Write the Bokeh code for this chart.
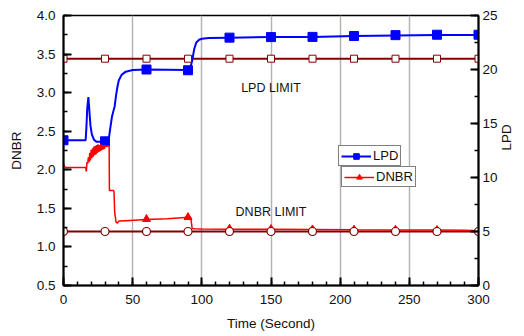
import math
from bokeh.plotting import figure
from bokeh.models import (Range1d, LinearAxis, SingleIntervalTicker, Label, Legend,
                          LegendItem, PrintfTickFormatter)
from bokeh.embed import file_html
from bokeh.resources import INLINE

# ---- data ----
t_lpd = [0, 16, 16.5, 17.2, 18, 18.8, 19.5, 20.5, 22, 24, 30, 32.5, 33.5, 35, 36, 37, 38,
         39, 40, 42, 45, 50, 60, 90, 91.5, 93, 94.5, 96, 98, 100, 105, 120, 150, 180, 210,
         240, 270, 300]
lpd = [13.45, 13.45, 14.5, 16.5, 17.45, 16.0, 14.8, 14.0, 13.5, 13.3, 13.3, 13.3, 14.3,
       15.6, 16.1, 16.6, 17.6, 18.4, 19.0, 19.5, 19.8, 19.95, 20.0, 19.95, 20.1, 20.8, 21.9,
       22.5, 22.75, 22.85, 22.92, 22.95, 23.0, 23.0, 23.1, 23.15, 23.2, 23.2]
marker_t = [0, 30, 60, 90, 120, 150, 180, 210, 240, 270, 300]
lpd_marker = [13.45, 13.35, 20.0, 19.93, 22.95, 23.0, 23.02, 23.1, 23.18, 23.22, 23.22]

t_dnbr = [0, 0.8, 1.5, 16, 16.5, 17, 17.5, 18, 18.5, 19, 19.5, 20, 20.5, 21, 21.5, 22, 22.5,
          23, 23.5, 24, 24.5, 25, 25.5, 26, 26.5, 27, 27.5, 28, 28.5, 29, 29.5, 30, 31, 32,
          33, 33.2, 36, 36.5, 37, 38, 39, 40, 45, 60, 75, 88, 89, 91, 92, 93, 95, 100, 120,
          150, 180, 210, 240, 270, 290, 300]
dnbr = [2.08, 2.04, 2.03, 2.03, 1.98, 2.1, 2.08, 2.16, 2.1, 2.22, 2.12, 2.26, 2.15, 2.28,
        2.17, 2.3, 2.19, 2.31, 2.2, 2.32, 2.22, 2.33, 2.23, 2.32, 2.24, 2.33, 2.25, 2.32,
        2.26, 2.32, 2.27, 2.31, 2.3, 2.31, 2.3, 1.73, 1.73, 1.72, 1.45, 1.32, 1.31, 1.335,
        1.34, 1.355, 1.365, 1.38, 1.39, 1.385, 1.38, 1.24, 1.235, 1.232, 1.23, 1.228, 1.225,
        1.222, 1.22, 1.218, 1.215, 1.21]
dnbr_marker_t = [60, 90, 120, 150, 180, 210, 240, 270]
dnbr_marker = [1.36, 1.385, 1.235, 1.23, 1.225, 1.222, 1.22, 1.218]

limit_t = [0, 300]
lpd_limit = [21.0, 21.0]
dnbr_limit = [1.2, 1.2]
lpd_limit_m = [21.0] * len(marker_t)
dnbr_limit_m = [1.2] * len(marker_t)

FONT = "Liberation Sans"
BLUE = "#0000ff"
RED = "#ff0000"
MAROON = "#800000"

p = figure(width=524, height=336, output_backend="svg", toolbar_location=None,
           x_range=Range1d(0, 300), y_range=Range1d(0.5, 4.0),
           min_border_left=63, min_border_right=41, min_border_top=15, min_border_bottom=51)
p.extra_y_ranges = {"lpd": Range1d(0, 25)}
p.background_fill_color = "white"
p.border_fill_color = "white"
p.outline_line_color = "black"
p.outline_line_width = 1.5
p.ygrid.visible = False
p.xgrid.ticker = SingleIntervalTicker(interval=50)
p.xgrid.grid_line_color = "#b4b4b4"
p.xgrid.grid_line_width = 1.5

p.xaxis.ticker = SingleIntervalTicker(interval=50, num_minor_ticks=5)
p.yaxis.ticker = SingleIntervalTicker(interval=0.5, num_minor_ticks=2)
p.yaxis.formatter = PrintfTickFormatter(format="%.1f")
p.xaxis.axis_label = "Time (Second)"
p.yaxis.axis_label = "DNBR"

raxis = LinearAxis(y_range_name="lpd", axis_label="LPD",
                   ticker=SingleIntervalTicker(interval=5, num_minor_ticks=2))
p.add_layout(raxis, "right")

for ax in [p.xaxis[0], p.yaxis[0], raxis]:
    ax.major_tick_in = 8
    ax.major_tick_out = 0
    ax.minor_tick_in = 4
    ax.minor_tick_out = 0
    ax.axis_line_width = 2
    ax.major_tick_line_width = 2
    ax.minor_tick_line_width = 1.5
    ax.major_label_text_font = FONT
    ax.major_label_text_font_size = "13.5px"
    ax.major_label_text_color = "#111111"
    ax.axis_label_text_font = FONT
    ax.axis_label_text_font_size = "13.5px"
    ax.axis_label_text_font_style = "normal"
    ax.axis_label_text_color = "#111111"
p.xaxis.major_label_standoff = 9
p.xaxis.axis_label_standoff = 9
p.yaxis.major_label_standoff = 8
p.yaxis.axis_label_standoff = 10
raxis.major_label_standoff = 4
raxis.axis_label_standoff = 6
raxis.axis_label_orientation = math.pi / 2

# limit lines
p.line(limit_t, lpd_limit, y_range_name="lpd", color=MAROON, line_width=2)
p.line(limit_t, dnbr_limit, color=MAROON, line_width=2)

# series
lpd_line = p.line(t_lpd, lpd, y_range_name="lpd", color=BLUE, line_width=2)
lpd_sq = p.scatter(marker_t, lpd_marker, y_range_name="lpd", marker="square", size=9,
                   fill_color=BLUE, line_color=BLUE)
dnbr_line = p.line(t_dnbr, dnbr, color=RED, line_width=1.5)
dnbr_tri = p.scatter(dnbr_marker_t, dnbr_marker, marker="triangle", size=8,
                     fill_color=RED, line_color=RED)

p.scatter(marker_t, lpd_limit_m, y_range_name="lpd", marker="square", size=7,
          fill_color="white", line_color=MAROON, line_width=1)
p.scatter(marker_t, dnbr_limit_m, marker="circle", size=8,
          fill_color="white", line_color=MAROON, line_width=1.2)

p.add_layout(Label(x=150, y=3.06, text="LPD LIMIT", text_align="center",
                   text_baseline="middle", text_font=FONT, text_font_size="12.5px",
                   text_color="#111111"))
p.add_layout(Label(x=150, y=1.448, text="DNBR LIMIT", text_align="center",
                   text_baseline="middle", text_font=FONT, text_font_size="12.5px",
                   text_color="#111111"))

def mk_legend(item, loc):
    lg = Legend(items=[item], location=loc, border_line_color="black",
                border_line_width=1.5, background_fill_color="white",
                background_fill_alpha=1.0, padding=2, margin=0, spacing=0,
                glyph_width=30, glyph_height=14, label_height=14,
                label_standoff=2, label_text_font=FONT,
                label_text_font_size="13px", label_text_color="#111111")
    return lg

p.add_layout(mk_legend(LegendItem(label="LPD", renderers=[lpd_line, lpd_sq]), (275, 119)))
p.add_layout(mk_legend(LegendItem(label="DNBR", renderers=[dnbr_line, dnbr_tri]), (278, 98)))

open("out.html", "w").write(file_html(p, INLINE))
